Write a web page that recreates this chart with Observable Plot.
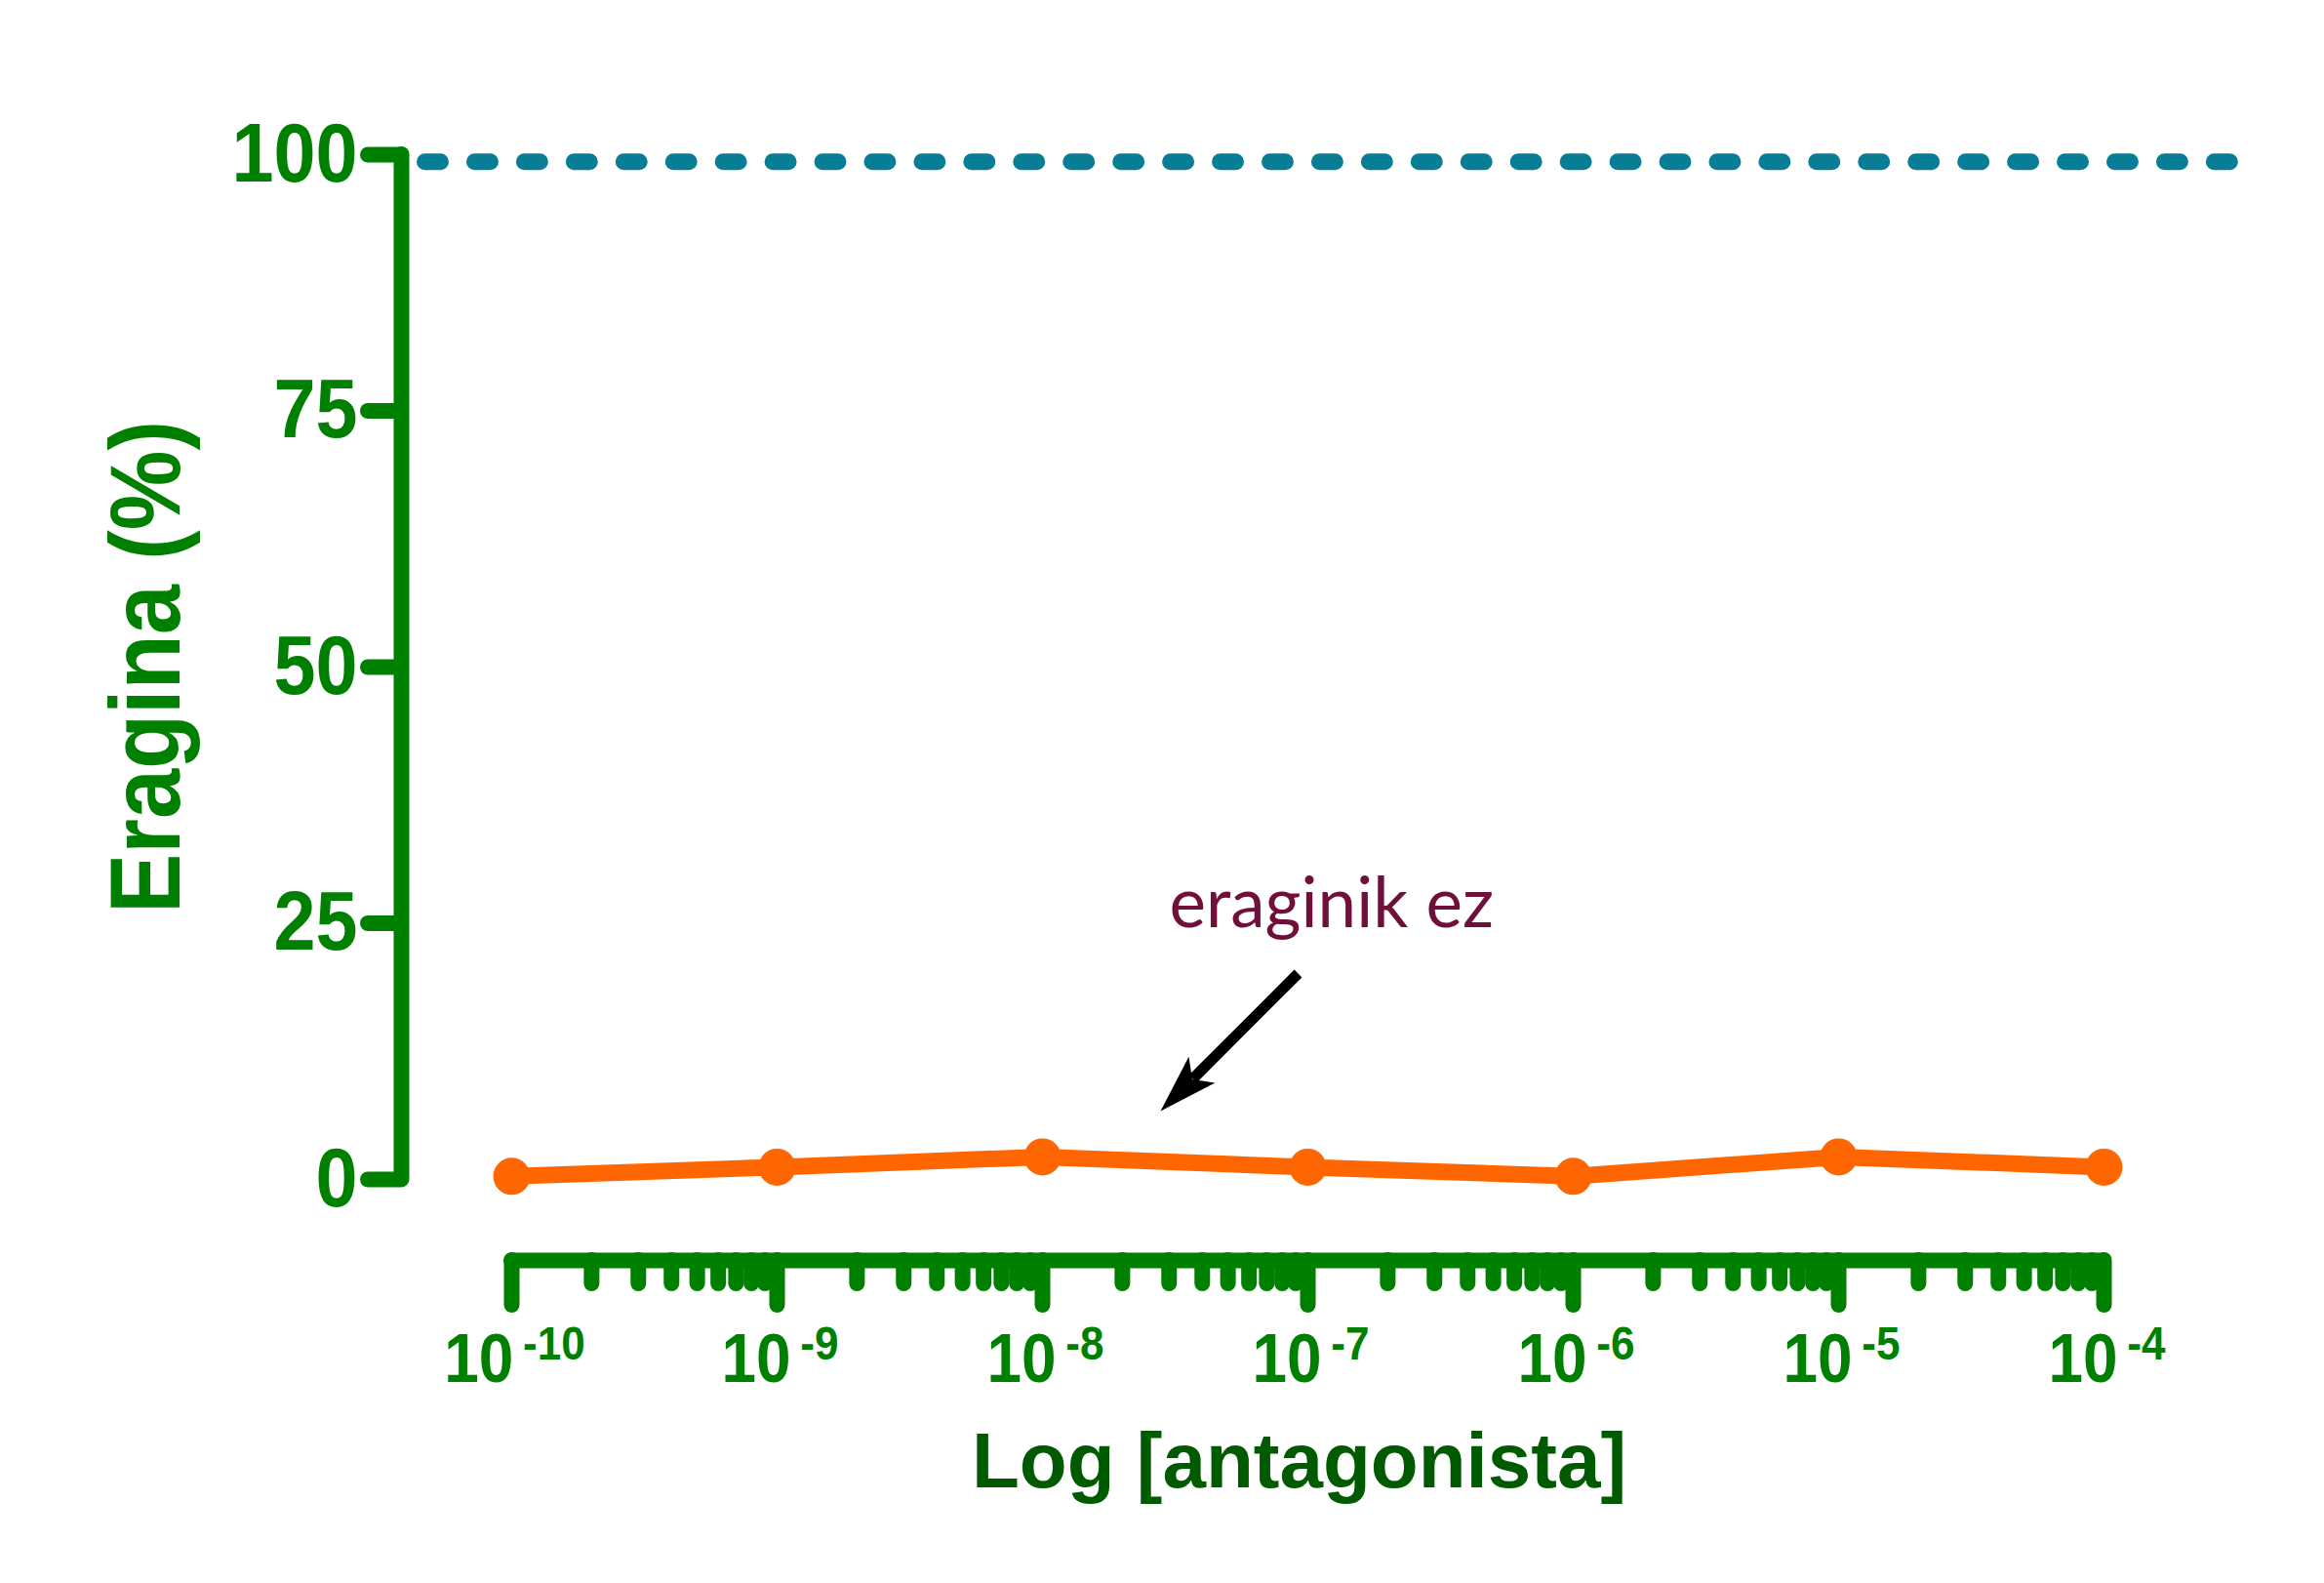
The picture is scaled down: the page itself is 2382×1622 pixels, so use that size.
<!DOCTYPE html>
<html>
<head>
<meta charset="utf-8">
<script src="https://cdn.jsdelivr.net/npm/d3@7"></script>
<script src="https://cdn.jsdelivr.net/npm/@observablehq/plot@0.6"></script>
<style>
  html, body { margin: 0; padding: 0; background: #ffffff; }
  #chart { width: 2382px; height: 1622px; }
</style>
</head>
<body>
<div id="chart"></div>
<script>
// ---- data ----
const concentrations = [1e-10, 1e-9, 1e-8, 1e-7, 1e-6, 1e-5, 1e-4];
const eragina = [0.3, 1.2, 2.2, 1.2, 0.3, 2.2, 1.2];
const referenceLevel = [99.3];
const yTicks = [0, 25, 50, 75, 100];
const xMajorTicks = [1e-10, 1e-9, 1e-8, 1e-7, 1e-6, 1e-5, 1e-4];
const minorMultipliers = [2, 3, 4, 5, 6, 7, 8, 9];
const yTitle = "Eragina (%)";
const xTitle = "Log [antagonista]";
const annotationText = "eraginik ez";

// ---- derived tables ----
const data = concentrations.map((c, i) => ({c, v: eragina[i]}));
const xMinorTicks = [];
for (let k = 0; k < xMajorTicks.length - 1; k++) {
  for (const m of minorMultipliers) xMinorTicks.push(m * xMajorTicks[k]);
}

// ---- layout (same scale definitions as the Plot below) ----
const W = 2382, H = 1622;
const mL = 524, mR = 226, mT = 158, mB = 414;
const X = d3.scaleLog().domain([1e-10, 1e-4]).range([mL, W - mR]);
const Y = d3.scaleLinear().domain([0, 100]).range([H - mB, mT]);

const green = "#008000";
const darkGreen = "#005a00";
const orange = "#ff6600";
const teal = "#087e96";
const maroon = "#700f3a";

const xAxisLevel = Y.invert(1291);
const yAxisPos = X.invert(411);

// arrow head symbol, pointing down-left (tip at origin)
const arrowHead = {
  draw(ctx) {
    const s = Math.SQRT1_2;
    const pt = (a, b) => [a * s + b * s, -a * s + b * s];
    const p = [pt(0, 0), pt(60, -19), pt(46, 0), pt(60, 19)];
    ctx.moveTo(p[0][0], p[0][1]);
    ctx.lineTo(p[1][0], p[1][1]);
    ctx.lineTo(p[2][0], p[2][1]);
    ctx.lineTo(p[3][0], p[3][1]);
    ctx.closePath();
  }
};

const bold = {fontWeight: "bold", fontFamily: "'Liberation Sans', Arial, sans-serif"};
const tag = name => ({ariaLabel: () => name, ariaDescription: name});

const svg = Plot.plot({
  width: W,
  height: H,
  marginLeft: mL,
  marginRight: mR,
  marginTop: mT,
  marginBottom: mB,
  style: {background: "#ffffff", fontFamily: "'Liberation Sans', Arial, sans-serif", overflow: "visible"},
  x: {type: "log", domain: [1e-10, 1e-4], axis: null},
  y: {domain: [0, 100], axis: null},
  marks: [
    // dashed reference line
    Plot.ruleY(referenceLevel, {
      y: d => d, x1: X.invert(435.5), x2: X.invert(2285.4),
      stroke: teal, strokeWidth: 17, strokeDasharray: "16 34.94", strokeLinecap: "round"
    }),
    // y axis
    Plot.ruleX([yAxisPos], {x: d => d, y1: 0, y2: 100, stroke: green, strokeWidth: 16, strokeLinecap: "round"}),
    Plot.ruleY(yTicks, {y: d => d, x1: X.invert(377), x2: yAxisPos, stroke: green, strokeWidth: 16, strokeLinecap: "round"}),
    Plot.text(yTicks, {
      x: yAxisPos, y: d => d, text: d => String(d), textAnchor: "end", dx: -45,
      fontSize: 85, fill: green, ...tag("y-tick-label"), ...bold
    }),
    // x axis
    Plot.ruleY([xAxisLevel], {y: d => d, x1: 1e-10, x2: 1e-4, stroke: green, strokeWidth: 16, strokeLinecap: "round"}),
    Plot.ruleX(xMajorTicks, {x: d => d, y1: xAxisLevel, y2: Y.invert(1337), stroke: green, strokeWidth: 16, strokeLinecap: "round"}),
    Plot.ruleX(xMinorTicks, {x: d => d, y1: xAxisLevel, y2: Y.invert(1315), stroke: green, strokeWidth: 16, strokeLinecap: "round"}),
    Plot.text(xMajorTicks, {
      x: d => d, y: Y.invert(1415), text: d => String(Math.round(Math.log10(d))),
      textAnchor: "middle", lineAnchor: "bottom", dx: 3,
      fontSize: 71, fill: green, ...tag("x-tick-label"), ...bold
    }),
    // axis titles
    Plot.text([xTitle], {
      x: X.invert(1331), y: Y.invert(1523), text: d => d, textAnchor: "middle", lineAnchor: "bottom",
      fontSize: 80, fill: darkGreen, ...tag("x-title"), ...bold
    }),
    Plot.text([yTitle], {
      x: X.invert(183), y: 50, text: d => d, rotate: -90, textAnchor: "middle", lineAnchor: "bottom",
      fontSize: 102, fill: green, ...tag("y-label"), ...bold
    }),
    // data
    Plot.line(data, {x: "c", y: "v", stroke: orange, strokeWidth: 17}),
    Plot.dot(data, {x: "c", y: "v", r: 19, fill: orange, stroke: "none"}),
    // annotation
    Plot.link([0], {
      x1: X.invert(1330), y1: Y.invert(997), x2: X.invert(1222), y2: Y.invert(1105),
      stroke: "#000000", strokeWidth: 11
    }),
    Plot.dot([0], {x: X.invert(1189), y: Y.invert(1138), symbol: arrowHead, r: 10, fill: "#000000", stroke: "none"}),
    Plot.text([annotationText], {
      x: X.invert(1198), y: Y.invert(949), text: d => d, textAnchor: "start", lineAnchor: "bottom",
      fontSize: 71, fontFamily: "Lato, 'Open Sans', sans-serif", fill: maroon, ...tag("annotation")
    })
  ]
});

// locate the text elements of each text mark
function textsOf(name, orderIndex) {
  let list = Array.from(svg.querySelectorAll(`text[aria-label="${name}"], [aria-description="${name}"] text`));
  if (!list.length) {
    const groups = Array.from(svg.querySelectorAll("g")).filter(g => {
      const kids = Array.from(g.children);
      return kids.length && kids.every(k => k.tagName.toLowerCase() === "text");
    });
    if (groups[orderIndex]) list = Array.from(groups[orderIndex].querySelectorAll("text"));
  }
  return list;
}

const xTickTexts = textsOf("x-tick-label", 1);
const yTickTexts = textsOf("y-tick-label", 0);
const yLabelTexts = textsOf("y-label", 3);

// x tick labels: "10" with a superscript exponent
xTickTexts.forEach(t => {
  const exp = t.textContent;
  while (t.firstChild) t.removeChild(t.firstChild);
  t.appendChild(document.createTextNode("10"));
  const ts = document.createElementNS("http://www.w3.org/2000/svg", "tspan");
  ts.setAttribute("dx", 11);
  ts.setAttribute("dy", -23);
  ts.setAttribute("font-size", 49);
  ts.textContent = exp;
  t.appendChild(ts);
});

// slightly condensed glyphs (horizontal only), as in the reference
function condense(list, s) {
  list.forEach(t => {
    let tr = t.getAttribute("transform") || "";
    const x = t.getAttribute("x");
    if (x != null && isFinite(+x)) {
      tr += ` translate(${+x},0)`;
      t.removeAttribute("x");
    }
    t.setAttribute("transform", `${tr} scale(${s},1)`.trim());
  });
}
condense(xTickTexts, 0.9);
condense(yTickTexts, 0.91);
condense(yLabelTexts, 0.9);

document.getElementById("chart").appendChild(svg);
</script>
</body>
</html>
